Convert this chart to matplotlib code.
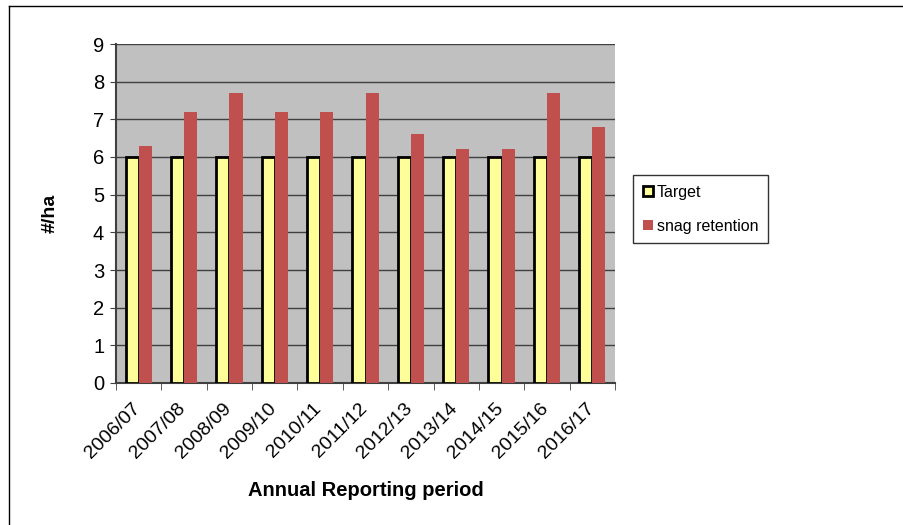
import matplotlib.pyplot as plt
import matplotlib.transforms as mtransforms
import numpy as np
from matplotlib.lines import Line2D

plt.rcParams['font.family'] = ['Liberation Sans', 'DejaVu Sans']

periods = ['2006/07', '2007/08', '2008/09', '2009/10', '2010/11', '2011/12',
           '2012/13', '2013/14', '2014/15', '2015/16', '2016/17']
target = [6, 6, 6, 6, 6, 6, 6, 6, 6, 6, 6]
snag = [6.3, 7.2, 7.7, 7.2, 7.2, 7.7, 6.6, 6.2, 6.2, 7.7, 6.8]

W, H = 904, 525
fig = plt.figure(figsize=(W/100, H/100), dpi=100)
ax = fig.add_axes([116/W, 1-383/H, (615-116)/W, (383-44)/H])
ax.set_facecolor('#C0C0C0')

x = np.arange(len(periods))
w = 0.29
ax.bar(x - w/2, target, w, color='#FFFF99', edgecolor='black', linewidth=2, label='Target', zorder=3)
ax.bar(x + w/2, snag, w, color='#C0504D', label='snag retention', zorder=3)

ax.set_xlim(-0.5, len(periods) - 0.5)
ax.set_ylim(0, 9)
ax.set_yticks(range(10))
ax.yaxis.grid(True, color='#404040', linewidth=1, zorder=1)
ax.set_xticks(x)
ax.set_xticks(np.arange(-0.5, len(periods)), minor=True)
ax.tick_params(axis='x', which='major', length=0, pad=8)
ax.tick_params(axis='x', which='minor', length=5, color='#404040')
ax.tick_params(axis='y', labelsize=14.5, length=4.5, pad=4, color='#404040')
ax.set_xticklabels(periods, rotation=45, ha='right', rotation_mode='anchor', fontsize=14)
offset = mtransforms.ScaledTranslation(-7/100, -6/100, fig.dpi_scale_trans)
for lab in ax.get_xticklabels():
    lab.set_transform(lab.get_transform() + offset)
for s in ['top', 'right']:
    ax.spines[s].set_visible(False)
for s in ['left', 'bottom']:
    ax.spines[s].set_color('#404040')
    ax.spines[s].set_linewidth(1.5)

ax.set_ylabel('#/ha', fontsize=14, fontweight='bold', va='center')
ax.yaxis.set_label_coords((50-116)/499, 0.5)
ax.set_xlabel('Annual Reporting period', fontsize=14.5, fontweight='bold', va='center')
ax.xaxis.set_label_coords(0.5, (383-490)/339)

leg = ax.legend(loc='upper left', bbox_to_anchor=(633/W, 1-175/H), bbox_transform=fig.transFigure,
                borderaxespad=0, fontsize=11.5, frameon=True, fancybox=False, edgecolor='black',
                handlelength=0.65, handleheight=0.65, handletextpad=0.25, labelspacing=1.2,
                borderpad=0.6)
leg.get_frame().set_linewidth(1)

# outer frame: only top and left edges are visible
fig.add_artist(Line2D([9/W, 1], [1-6/H, 1-6/H], color='black', linewidth=1, transform=fig.transFigure))
fig.add_artist(Line2D([9/W, 9/W], [0, 1-6/H], color='black', linewidth=1, transform=fig.transFigure))

fig.savefig('out.png', dpi=100)
